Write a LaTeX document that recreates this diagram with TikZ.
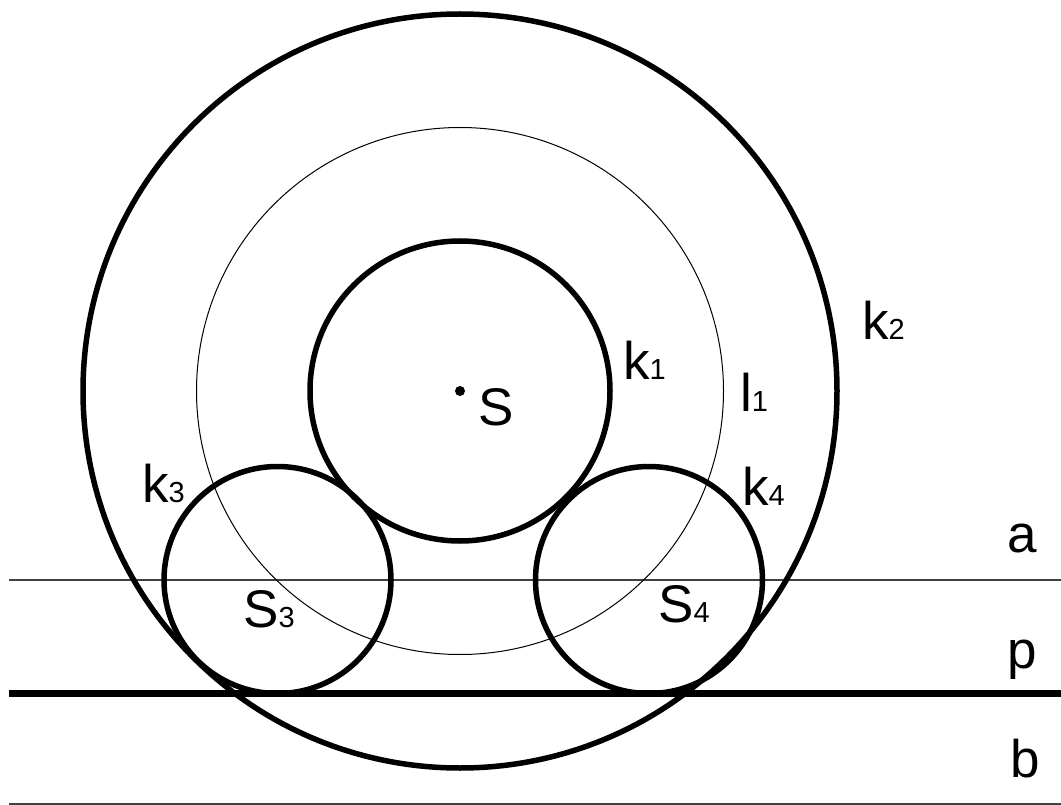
\documentclass[tikz,border=0pt]{standalone}
\usepackage{fontspec}
\setmainfont{Liberation Sans}
\newcommand\mylbl[2]{{\fontsize{53}{53}\selectfont #1}{\fontsize{29}{29}\selectfont #2}}
\begin{document}
\begin{tikzpicture}[x=1pt,y=-1pt,
  thick circ/.style={draw=black,line width=5.5pt},
  thin circ/.style={draw=black,line width=1pt},
  thin line/.style={draw=black!75,line width=1.4pt},
  thick line/.style={draw=black,line width=6.5pt},
  lab/.style={anchor=base west,inner sep=0pt,text=black}]
\useasboundingbox (0,0) rectangle (1061,805);
\coordinate (S) at (460,391);
\coordinate (S3) at (277.5,580);
\coordinate (S4) at (649,580);
% lines
\coordinate (aL) at (9,580);   \coordinate (aR) at (1061,580);
\coordinate (pL) at (9,693.5); \coordinate (pR) at (1061,693.5);
\coordinate (bL) at (9,804);   \coordinate (bR) at (1061,804);
\draw[thin line] (aL) -- (aR);
\draw[thick line] (pL) -- (pR);
\draw[thin line] (bL) -- (bR);
% circles
\draw[thin circ] (S) circle[radius=263.5];
\draw[thick circ] (S) circle[radius=377];
\draw[thick circ] (S) circle[radius=150];
\draw[thick circ] (S3) circle[radius=113.5];
\draw[thick circ] (S4) circle[radius=113.5];
\fill[black] (S) circle[radius=5];
% labels
\node[lab] (lk1) at (623,379) {\mylbl{k}{1}};
\node[lab] (ll1) at (740,411) {\mylbl{l}{1}};
\node[lab] (lk2) at (862,339) {\mylbl{k}{2}};
\node[lab] (lS) at (478,425) {\mylbl{S}{}};
\node[lab] (lk3) at (142,502) {\mylbl{k}{3}};
\node[lab] (lk4) at (742,505) {\mylbl{k}{4}};
\node[lab] (lS3) at (243,627) {\mylbl{S}{3}};
\node[lab] (lS4) at (658,622) {\mylbl{S}{4}};
\node[lab] (la) at (1007,552) {\mylbl{a}{}};
\node[lab] (lp) at (1007,668) {\mylbl{p}{}};
\node[lab] (lb) at (1010,777) {\mylbl{b}{}};
\end{tikzpicture}
\end{document}
